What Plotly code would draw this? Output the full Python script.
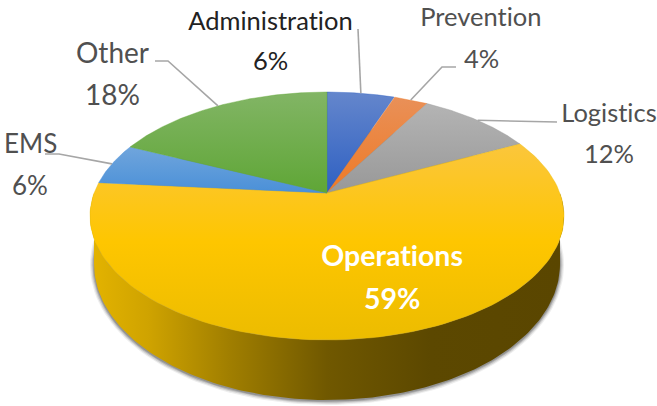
import math
import plotly.graph_objects as go

# Data
categories = ["Administration", "Prevention", "Logistics", "Operations", "EMS", "Other"]
printed_percent = [6, 4, 12, 59, 6, 18]          # the percentages the labels state
drawn_share = [5.5, 2.8, 9.4, 58.7, 5.4, 18.2]   # the sizes the slices are drawn at

# Style and layout
W, H = 657, 406
FONT = "Lato"
top_colors = {
    "Administration": ["#6486cc", "#2e60c2"],
    "Prevention": ["#e99058", "#ee7a26"],
    "Logistics": ["#b4b4b4", "#989898"],
    "Operations": ["#fbc63c", "#fec600", "#ecbc00"],
    "EMS": ["#70a5dc", "#4a90d8"],
    "Other": ["#82b565", "#5fa636"],
}
label_style = {
    "Administration": dict(x=270, y1=20, y2=60, color="#222222", size=25.5),
    "Prevention": dict(x=481, y1=16, y2=58, color="#505050", size=25.5),
    "Logistics": dict(x=609, y1=112, y2=153, color="#505050", size=25.5),
    "Operations": dict(x=392, y1=255, y2=298, color="#ffffff", size=28.5, bold=True),
    "EMS": dict(x=30, y1=143, y2=185, color="#505050", size=26),
    "Other": dict(x=112, y1=52, y2=94, color="#505050", size=28),
}
leader_elbows = {
    "Administration": [(358, 29)],
    "Prevention": [(456, 67), (442, 67)],
    "Logistics": [(557, 122)],
    "EMS": [(45, 154), (59, 154)],
    "Other": [(155, 61), (168, 61)],
}

# Projection of the tilted disc
CX, CY = 327, 193      # apex
PERSP = 0.1855
SCALE_X, SCALE_Y = 232.9, 119.7
BOT_CX, BOT_CY, BOT_RX, BOT_RY = 327, 264, 233, 136


def project(angle):
    u, v = math.sin(angle), -math.cos(angle)
    d = 1 - PERSP * v
    return CX + SCALE_X * u / d, CY + SCALE_Y * v / d


def rim(a0, a1, n=120):
    pts = [project(a0 + (a1 - a0) * i / n) for i in range(n + 1)]
    return [p[0] for p in pts], [p[1] for p in pts]


def ellipse_arc(cx, cy, rx, ry, a0, a1, n=160):
    xs = [cx + rx * math.cos(a0 + (a1 - a0) * i / n) for i in range(n + 1)]
    ys = [cy + ry * math.sin(a0 + (a1 - a0) * i / n) for i in range(n + 1)]
    return xs, ys


fig = go.Figure()

# soft shadow beneath the side wall
for grow, op in [(4.0, 0.10), (2.8, 0.18), (1.6, 0.28), (0.6, 0.35)]:
    sx, sy = ellipse_arc(BOT_CX, BOT_CY + 1, BOT_RX + grow, BOT_RY + grow, 0, 2 * math.pi)
    fig.add_trace(go.Scatter(x=sx, y=sy, mode="lines", line=dict(width=0), fill="toself",
                             fillcolor=f"rgba(90,90,90,{op})", hoverinfo="skip"))

# side wall
tx, ty = rim(math.radians(90), math.radians(270))
bx, by = ellipse_arc(BOT_CX, BOT_CY, BOT_RX, BOT_RY, math.pi, 0)
fig.add_trace(go.Scatter(
    x=tx + bx, y=ty + by, mode="lines", line=dict(width=0), fill="toself", hoverinfo="skip",
    fillgradient=dict(type="horizontal", start=92, stop=562, colorscale=[
        [0.00, "#e3b300"], [0.12, "#cfa300"], [0.29, "#a17f00"], [0.50, "#705800"],
        [0.72, "#5c4800"], [1.00, "#5a4600"]]),
))

# top face
total = sum(drawn_share)
start = 0.0
mids = {}
for name, share in zip(categories, drawn_share):
    a0 = start / total * 2 * math.pi
    a1 = (start + share) / total * 2 * math.pi
    mids[name] = project((a0 + a1) / 2)
    rx_, ry_ = rim(a0, a1)
    xs = [CX] + rx_ + [CX]
    ys = [CY] + ry_ + [CY]
    cols = top_colors[name]
    y0, y1 = min(ys), max(ys)
    scale = [[i / (len(cols) - 1), c] for i, c in enumerate(cols)]
    fig.add_trace(go.Scatter(
        x=xs, y=ys, mode="lines", line=dict(width=0.4, color=cols[-1]), fill="toself",
        hoverinfo="skip",
        fillgradient=dict(type="vertical", start=y0, stop=y1, colorscale=scale),
    ))
    start += share

# leader lines
for name, elbows in leader_elbows.items():
    pts = elbows + [mids[name]]
    fig.add_trace(go.Scatter(x=[p[0] for p in pts], y=[p[1] for p in pts], mode="lines",
                             line=dict(color="#a6a6a6", width=1.6), hoverinfo="skip"))

# labels
for name, pct in zip(categories, printed_percent):
    st = label_style[name]
    first = f"<b>{name}</b>" if st.get("bold") else name
    second = f"<b>{pct}%</b>" if st.get("bold") else f"{pct}%"
    for text, y in ((first, st["y1"]), (second, st["y2"])):
        fig.add_annotation(x=st["x"], y=y, text=text, showarrow=False, xref="x", yref="y",
                           xanchor="center", yanchor="middle",
                           font=dict(family=FONT, size=st["size"], color=st["color"]))

fig.update_layout(
    width=W, height=H, margin=dict(l=0, r=0, t=0, b=0), showlegend=False,
    paper_bgcolor="white", plot_bgcolor="white",
    xaxis=dict(range=[0, W], visible=False, fixedrange=True),
    yaxis=dict(range=[H, 0], visible=False, fixedrange=True),
)
fig.write_html(
    "out.html",
    config={"displayModeBar": False},
    post_script="document.body.style.margin='0';document.body.style.overflow='hidden';"
                "var s=document.createElement('style');"
                "s.textContent='text,tspan{font-variant-ligatures:none !important;"
                "font-feature-settings:\"liga\" 0 !important;}';"
                "document.head.appendChild(s);",
)
